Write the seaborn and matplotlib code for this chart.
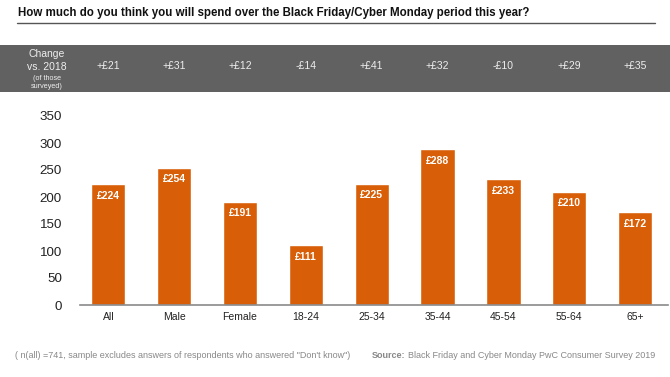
import pandas as pd
import matplotlib.pyplot as plt
import seaborn as sns
from matplotlib.patches import Rectangle

# Data
groups = ['All', 'Male', 'Female', '18-24', '25-34', '35-44', '45-54', '55-64', '65+']
spend = [224, 254, 191, 111, 225, 288, 233, 210, 172]
change = ['+£21', '+£31', '+£12', '-£14', '+£41', '+£32', '-£10', '+£29', '+£35']
yticks = [0, 50, 100, 150, 200, 250, 300, 350]

df = pd.DataFrame({'group': groups, 'spend': spend})

sns.set_style('white')
plt.rcParams['font.family'] = ['Liberation Sans', 'DejaVu Sans']

W, H = 670, 377
fig = plt.figure(figsize=(W / 100, H / 100), dpi=100)

# Axes placed in pixel coordinates
left, right, bottom, top = 80, 668, 305, 116
ax = fig.add_axes([left / W, 1 - bottom / H, (right - left) / W, (bottom - top) / H])

bar_color = '#D85F08'
sns.barplot(data=df, x='group', y='spend', color=bar_color, width=0.52,
            saturation=1, ax=ax)

ax.set_xlim(-0.43, 8.5)
ax.set_ylim(0, 350)
ax.set_yticks(yticks)
ax.set_xlabel('')
ax.set_ylabel('')
for s in ['top', 'right', 'left']:
    ax.spines[s].set_visible(False)
ax.spines['bottom'].set_color('#8a8a8a')
ax.spines['bottom'].set_linewidth(1.2)
ax.tick_params(axis='y', length=0, pad=13, labelsize=9.6, labelcolor='#222222')
ax.tick_params(axis='x', length=0, pad=5, labelsize=7.5, labelcolor='#222222')

# Value labels inside bars
for i, v in enumerate(spend):
    ax.text(i, v - 12, f'£{v}', ha='center', va='top', color='white',
            fontsize=7.5, fontweight='bold')

# Title and rule
fig.text(18 / W, 1 - 13 / H, 'How much do you think you will spend over the Black Friday/Cyber Monday period this year?',
         ha='left', va='center', fontsize=8.3, fontweight='bold', color='#111111')
fig.add_artist(plt.Line2D([17 / W, 655 / W], [1 - 23 / H, 1 - 23 / H], color='#555555', lw=1.0))

# Gray band with change vs. 2018
fig.add_artist(Rectangle((0, 1 - 92 / H), 670 / W, 47 / H, transform=fig.transFigure,
                         facecolor='#616161', edgecolor='none'))
band_y = 1 - 66 / H
fig.text(47 / W, 1 - 54 / H, 'Change', ha='center', va='center', fontsize=7.5, color='#eeeeee')
fig.text(47 / W, 1 - 67 / H, 'vs. 2018', ha='center', va='center', fontsize=7.5, color='#eeeeee')
fig.text(47 / W, 1 - 79 / H, '(of those', ha='center', va='center', fontsize=5.2, color='#eeeeee')
fig.text(47 / W, 1 - 86 / H, 'surveyed)', ha='center', va='center', fontsize=5.2, color='#eeeeee')
for i, c in enumerate(change):
    xd = ax.transData.transform((i, 0))[0]
    xf = fig.transFigure.inverted().transform((xd, 0))[0]
    fig.text(xf, band_y, c, ha='center', va='center', fontsize=7.5, color='#eeeeee')

# Footer
foot_y = 1 - 358 / H
fig.text(15 / W, foot_y, '( n(all) =741, sample excludes answers of respondents who answered "Don\'t know")',
         ha='left', va='baseline', fontsize=6.5, color='#888888')
src = fig.text(372 / W, foot_y, 'Source:', ha='left', va='baseline', fontsize=6.5,
               color='#888888', fontweight='bold')
renderer = fig.canvas.get_renderer()
src_end = src.get_window_extent(renderer).x1
fig.text((src_end + 2) / W, foot_y, 'Black Friday and Cyber Monday PwC Consumer Survey 2019',
         ha='left', va='baseline', fontsize=6.5, color='#888888')

fig.savefig('out.png', dpi=100)
